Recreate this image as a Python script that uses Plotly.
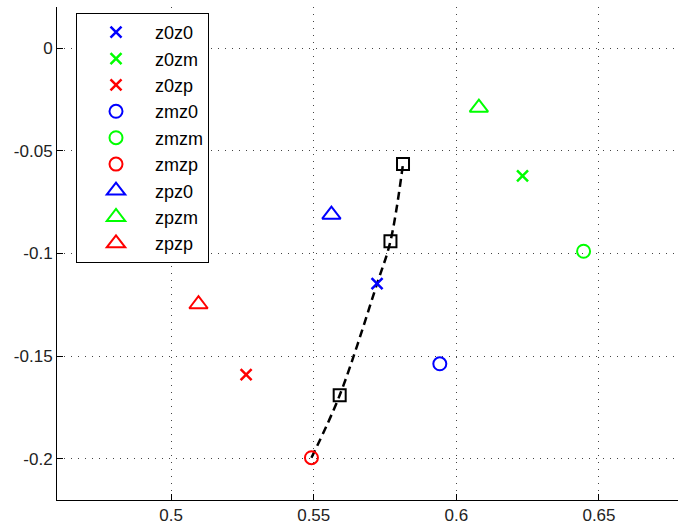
import plotly.graph_objects as go

# ---- data ----
names = ["z0z0", "z0zm", "z0zp", "zmz0", "zmzm", "zmzp", "zpz0", "zpzm", "zpzp"]
xs = [0.5722, 0.6232, 0.5263, 0.5942, 0.6446, 0.5492, 0.5562, 0.6079, 0.5096]
ys = [-0.1147, -0.0622, -0.1590, -0.1537, -0.0989, -0.1994, -0.0811, -0.0290, -0.1247]
colors = ["#0000ff", "#00ff00", "#ff0000"] * 3
symbols = ["x-thin-open"] * 3 + ["circle-open"] * 3 + ["triangle-up-open"] * 3
sizes = [11] * 3 + [13] * 3 + [16] * 3

curve_x = [0.5492, 0.5591, 0.5722, 0.5769, 0.5813]
curve_y = [-0.1994, -0.1690, -0.1147, -0.0940, -0.0564]
square_x = [0.5813, 0.5769, 0.5591]
square_y = [-0.0564, -0.0940, -0.1690]

x_tickvals = [0.5, 0.55, 0.6, 0.65]
x_ticktext = ["0.5", "0.55", "0.6", "0.65"]
y_tickvals = [0, -0.05, -0.1, -0.15, -0.2]
y_ticktext = ["0", "-0.05", "-0.1", "-0.15", "-0.2"]

FONT = "Liberation Sans, Arial, sans-serif"

fig = go.Figure()

fig.add_trace(go.Scatter(
    x=curve_x, y=curve_y, mode="lines", showlegend=False,
    line=dict(color="black", width=2.5, dash="8px,5px", shape="spline"),
    hoverinfo="skip",
))
fig.add_trace(go.Scatter(
    x=square_x, y=square_y, mode="markers", showlegend=False,
    marker=dict(symbol="square-open", size=12, color="black",
                line=dict(color="black", width=2)),
))

for n, x, y, c, s, sz in zip(names, xs, ys, colors, symbols, sizes):
    lw = 2.5 if s.startswith("x") else 2
    fig.add_trace(go.Scatter(
        x=[x], y=[y], mode="markers", name=n,
        marker=dict(symbol=s, size=sz, color=c, line=dict(color=c, width=lw)),
    ))

axis_common = dict(
    showline=True, linecolor="black", linewidth=1, mirror=False,
    ticks="inside", ticklen=6, tickcolor="black", tickwidth=1,
    showgrid=True, gridcolor="#444444", gridwidth=1, griddash="1px,6px",
    zeroline=False, tickfont=dict(family=FONT, size=17, color="#222222"),
)

fig.update_layout(
    width=678, height=531,
    margin=dict(l=57, r=0, t=7, b=31),
    paper_bgcolor="white", plot_bgcolor="white",
    font=dict(family=FONT, color="black"),
    xaxis=dict(range=[0.46, 0.6777], tickvals=x_tickvals, ticktext=x_ticktext, **axis_common),
    yaxis=dict(range=[-0.22, 0.02], tickvals=y_tickvals, ticktext=y_ticktext, **axis_common),
    legend=dict(
        x=0.0306, y=0.988, xanchor="left", yanchor="top",
        bgcolor="white", bordercolor="black", borderwidth=1,
        font=dict(family=FONT, size=18, color="black"),
        itemwidth=68,
    ),
)

fig.write_html("out.html", config={"displayModeBar": False},
               post_script="document.body.style.margin='0';")
